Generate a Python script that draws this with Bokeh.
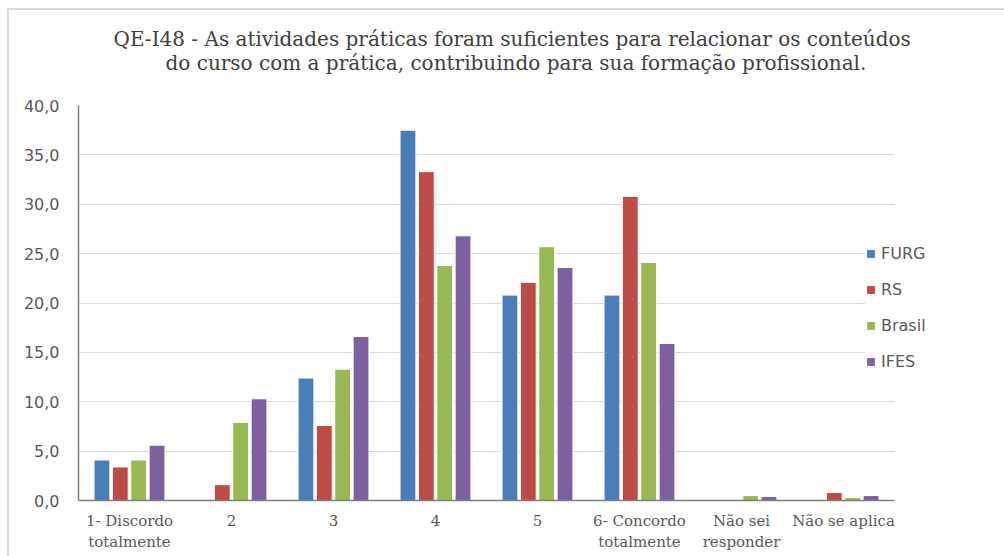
from bokeh.plotting import figure
from bokeh.models import FactorRange, ColumnDataSource, FixedTicker, Legend, LegendItem, Title
from bokeh.transform import dodge
from bokeh.embed import file_html
from bokeh.resources import INLINE

categories = ["1- Discordo\ntotalmente", "2", "3", "4", "5",
              "6- Concordo\ntotalmente", "Não sei\nresponder", "Não se aplica"]
furg = [4.1, 0.0, 12.4, 37.5, 20.8, 20.8, 0.0, 0.0]
rs = [3.4, 1.6, 7.6, 33.3, 22.1, 30.8, 0.0, 0.8]
brasil = [4.1, 7.9, 13.3, 23.8, 25.7, 24.1, 0.5, 0.3]
ifes = [5.6, 10.3, 16.6, 26.8, 23.6, 15.9, 0.4, 0.5]
series_names = ["FURG", "RS", "Brasil", "IFES"]
series_colors = ["#4A7EBB", "#BE4B48", "#98B954", "#7D60A0"]
yticks = [0, 5, 10, 15, 20, 25, 30, 35, 40]
ytick_labels = ["0,0", "5,0", "10,0", "15,0", "20,0", "25,0", "30,0", "35,0", "40,0"]
title_line1 = "QE-I48 - As atividades práticas foram suficientes para relacionar os conteúdos"
title_line2 = "do curso com a prática, contribuindo para sua formação profissional."

src = ColumnDataSource(dict(cat=categories, FURG=furg, RS=rs, Brasil=brasil, IFES=ifes))

p = figure(x_range=FactorRange(*categories, range_padding=0), y_range=(0, 40),
           width=993, height=546, frame_width=816, frame_height=395,
           min_border_left=69, min_border_right=108, min_border_top=95, min_border_bottom=56,
           output_backend="svg", toolbar_location=None,
           styles={"margin-left": "7px", "margin-top": "8px",
                   "border-top": "2px solid #d9d9d9", "border-left": "2px solid #d9d9d9"})

# first line (outer)
p.title.text = title_line1
p.title.align = "left"
p.title.offset = 35
p.title.text_font = "DejaVu Serif"
p.title.text_font_size = "20px"
p.title.text_font_style = "normal"
p.title.text_color = "#404040"
p.title.standoff = -66

# second line (closest to the plot)
t2 = Title(text=title_line2, align="left", offset=87, text_font="DejaVu Serif",
           text_font_size="20px", text_font_style="normal", text_color="#404040", standoff=62)
p.add_layout(t2, "above")

offsets = [-0.27, -0.09, 0.09, 0.27]
items = []
for name, col, off in zip(series_names, series_colors, offsets):
    r = p.vbar(x=dodge("cat", off, range=p.x_range), top=name, width=0.155, source=src,
               fill_color=col, line_color="white", line_width=1)
    items.append(LegendItem(label=name, renderers=[r]))

legend = Legend(items=items, location=(-29, 129), border_line_color=None,
                background_fill_color="white", background_fill_alpha=1.0,
                padding=0, margin=0, spacing=16, glyph_width=11, glyph_height=11,
                label_standoff=5, label_text_font="DejaVu Sans", label_text_font_size="16px",
                label_text_color="#595959", label_height=20)
p.add_layout(legend, "right")

p.outline_line_color = None
p.xgrid.grid_line_color = None
p.ygrid.grid_line_color = "#d9d9d9"
p.ygrid.grid_line_width = 1
p.ygrid.ticker = FixedTicker(ticks=yticks)

p.yaxis.ticker = FixedTicker(ticks=yticks)
p.yaxis.major_label_overrides = {t: l for t, l in zip(yticks, ytick_labels)}
p.yaxis.major_label_text_font = "DejaVu Sans"
p.yaxis.major_label_text_font_size = "16px"
p.yaxis.major_label_text_color = "#595959"
p.yaxis.major_label_standoff = 19
p.yaxis.major_tick_line_color = None
p.yaxis.major_tick_out = 0
p.yaxis.minor_tick_line_color = None
p.yaxis.minor_tick_out = 0
p.yaxis.axis_line_color = "#7f7f7f"
p.yaxis.axis_line_width = 1.5

p.xaxis.major_label_text_font = "DejaVu Serif"
p.xaxis.major_label_text_font_size = "15px"
p.xaxis.major_label_text_color = "#595959"
p.xaxis.major_label_standoff = 11
p.xaxis.major_tick_line_color = None
p.xaxis.major_tick_out = 0
p.xaxis.axis_line_color = "#7f7f7f"
p.xaxis.axis_line_width = 1.5

open("out.html", "w").write(file_html(p, INLINE))
